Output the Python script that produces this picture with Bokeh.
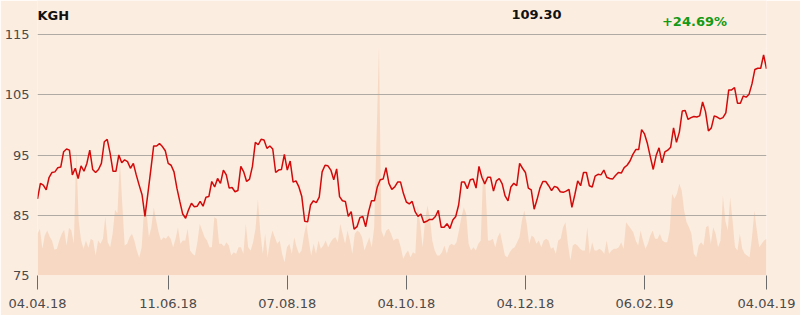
import numpy as np
from bokeh.plotting import figure
from bokeh.models import Range1d, LinearAxis, FixedTicker, Label
from bokeh.embed import file_html
from bokeh.resources import INLINE

ticker_name = "KGH"
last_price = "109.30"
change_text = "+24.69%"

price = [
    87.7, 90.3, 90.0, 89.2, 91.3, 92.1, 92.2, 92.9, 93.0, 95.55,
    96.0, 95.8, 91.7, 92.8, 91.1, 93.2, 92.3, 93.6, 95.8, 92.6,
    92.1, 92.6, 93.6, 97.2, 97.6, 95.3, 92.3, 92.3, 95.0, 93.7,
    94.2, 93.9, 92.8, 93.6, 91.7, 90.0, 88.4, 84.8, 88.6, 92.5,
    96.5, 96.5, 96.9, 96.4, 95.7, 93.6, 93.3, 92.2, 89.5, 87.3,
    85.2, 84.5, 85.9, 87.0, 86.4, 86.5, 87.3, 86.5, 88.0, 88.1,
    90.6, 89.7, 91.1, 90.3, 92.5, 91.7, 89.5, 89.6, 88.9, 89.1,
    93.1, 92.2, 90.6, 91.0, 93.1, 97.1, 96.7, 97.6, 97.5, 96.1,
    96.5, 96.0, 92.1, 92.5, 92.6, 95.1, 92.5, 94.0, 90.5, 90.7,
    89.7, 88.1, 84.0, 83.9, 86.7, 87.4, 87.1, 88.0, 92.2, 93.3,
    93.2, 92.5, 90.9, 92.7, 88.1, 87.4, 87.3, 84.8, 85.6, 82.7,
    83.1, 84.6, 84.8, 83.1, 85.6, 87.4, 87.4, 89.7, 90.9, 91.0,
    92.9, 90.3, 89.3, 89.7, 90.5, 90.5, 88.6, 87.2, 86.9, 87.3,
    85.6, 84.8, 85.2, 83.8, 84.0, 84.3, 84.3, 84.8, 85.8, 83.0,
    83.0, 83.6, 82.8, 84.2, 84.8, 86.7, 90.5, 90.5, 89.4, 90.9,
    91.0, 89.5, 93.1, 91.3, 90.2, 91.3, 91.3, 89.0, 90.7, 91.1,
    90.2, 88.2, 87.4, 89.7, 90.3, 89.9, 93.6, 92.8, 92.1, 89.5,
    89.2, 86.0, 87.6, 89.5, 90.6, 90.6, 89.9, 89.1, 89.8, 89.6,
    88.9, 88.8, 89.0, 89.3, 86.3, 88.4, 90.7, 89.9, 92.1, 92.1,
    89.9, 89.7, 91.5, 91.8, 91.7, 92.5, 91.3, 91.1, 91.0, 91.6,
    92.1, 92.0, 92.9, 93.3, 94.0, 95.1, 95.9, 95.9, 99.2, 98.5,
    96.9, 94.7, 92.6, 94.9, 96.2, 93.7, 95.5, 95.8, 96.3, 99.5,
    97.1, 98.8, 102.3, 102.4, 100.9, 101.2, 101.4, 101.3, 101.5, 103.8,
    102.2, 99.0, 99.5, 101.5, 101.3, 101.0, 101.2, 102.0, 105.8, 105.8,
    106.2, 103.6, 103.6, 104.8, 104.6, 105.1, 106.8, 109.2, 109.4, 109.4,
    111.6, 109.3,
]

volume = [
    41.7, 46.7, 26.7, 40, 45, 39, 35, 25.7, 26.7, 35,
    41.7, 45.7, 30, 47.7, 45, 31.7, 125, 55, 35, 26.7,
    35, 27.7, 36.7, 35, 20, 35, 31.7, 36.7, 59, 33.3,
    28.3, 41.7, 65.7, 62.3, 115, 71.7, 30, 31.7, 38.3, 41.7,
    35, 25, 17.7, 28.3, 66.7, 63.3, 38.3, 48.3, 68.3, 55,
    43.3, 35, 38.3, 36.7, 40, 36.7, 28.3, 36.7, 48.3, 31.7,
    35, 35, 46.7, 25, 21.7, 20, 33.3, 51.7, 45, 38.3,
    35, 28.3, 28.3, 58.3,
    56.7, 31.7, 31.7, 29, 33.3, 30, 20, 23.3, 21.7, 28.3,
    28.3, 21.7, 51.7, 28.3, 25, 33.3, 46.7, 76.7, 43.3, 21.7,
    41.7, 18.3, 35, 45, 38.3, 31.7, 35, 21.7, 13.3, 28.3,
    31.7, 21.7, 38.3, 28.3, 21.7, 25, 40, 51.7, 35, 20,
    31.7, 21.7, 35, 26.7, 30, 35, 28.3, 33.3, 36.7, 38.3,
    33.3, 51.7, 41.7, 31.7, 45, 35, 21.7, 41.7, 45, 43.3,
    38.3, 25, 31.7, 38.3, 28.3, 48.3, 140, 230, 45, 38.3,
    45, 46.7, 41.7, 35, 36.7,
    36.7, 28.3, 16.7, 21.7, 25, 18.3, 23.3, 21.7, 70, 51.7,
    28.3, 55, 70, 58.3, 35, 25, 20, 20, 23.3, 30,
    21.7, 30, 31.7, 30, 33.3, 45, 58.3, 68.3, 61.7, 31.7,
    25, 28.3, 25, 31.7, 35, 105, 88.3, 35, 35, 36.7,
    28.3, 38.3, 43.3, 31.7, 20, 18.3, 23.3, 26.7, 28.3, 33.3,
    38.3, 55, 65, 51.7, 31.7, 40, 38.3, 31.7, 35, 28.3,
    35, 36.7, 35, 26.7, 28.3, 21.7, 35, 36.7, 48.3, 53.3,
    31.7, 15, 30, 31.7, 30, 26.7, 25, 25,
    48.3, 21.7, 33.3, 25, 25, 26.7, 25, 21.7, 35, 21.7,
    25, 26.7, 26.7, 28.3, 33.3, 26.7, 53.3, 50, 46.7, 43.3,
    35, 30, 45, 35, 26.7, 31.7, 40, 45, 36.7, 36.7,
    41.7, 35, 33.3, 33.3, 45, 81.7, 76.7, 81.7, 91.7, 85,
    65, 53.3, 48.3, 41.7, 21.7, 18.3, 30, 33.3, 30, 48.3,
    50, 31.7, 48.3, 41.7, 28.3, 35, 80, 55, 45, 78.3,
    55, 28.3, 25, 41.7, 26.7, 21.7, 20, 18.3, 38.3, 65,
    45, 28.3, 31.7, 35, 36.7,
]

tick_days = [0, 45, 86, 127, 168, 209, 251]
tick_labels = ["04.04.18", "11.06.18", "07.08.18", "04.10.18", "04.12.18", "06.02.19", "04.04.19"]
y_ticks = [75, 85, 95, 105, 115]

BG = "#fcede1"
FONT = "DejaVu Sans"

n = len(price)
days = np.arange(n)
vol_x = np.linspace(0, n - 1, len(volume))

p = figure(width=800, height=315, output_backend="svg", toolbar_location=None,
           x_range=Range1d(0, n - 1), y_range=Range1d(75, 75 + 275 * 10 / 60.25),
           min_border_left=37, min_border_right=34, min_border_top=0, min_border_bottom=40,
           background_fill_color=BG, border_fill_color=BG, outline_line_color=None,
           x_axis_location=None, y_axis_location=None)
p.extra_y_ranges = {"vol": Range1d(0, 275)}

vr = p.varea(x=vol_x, y1=0, y2=volume, y_range_name="vol", fill_color="#f7d9c3", fill_alpha=1.0)
vr.level = "image"
p.line(days, price, line_color="#d20a0a", line_width=1.5)

p.xgrid.visible = False
p.ygrid.ticker = FixedTicker(ticks=y_ticks)
p.ygrid.grid_line_color = "#b0aaa4"
p.ygrid.grid_line_width = 1

yax = LinearAxis(ticker=FixedTicker(ticks=y_ticks))
yax.axis_line_color = None
yax.major_tick_line_color = None
yax.major_tick_in = 0
yax.major_tick_out = 0
yax.minor_tick_line_color = None
yax.minor_tick_out = 0
yax.major_label_standoff = 8
yax.major_label_text_font = FONT
yax.major_label_text_font_size = "13px"
yax.major_label_text_color = "#4a4a4a"
p.add_layout(yax, "left")

xax = LinearAxis(ticker=FixedTicker(ticks=tick_days))
xax.major_label_overrides = {d: l for d, l in zip(tick_days, tick_labels)}
xax.axis_line_color = None
xax.major_tick_in = 0
xax.major_tick_out = 14
xax.major_tick_line_color = "#6b6b6b"
xax.minor_tick_line_color = None
xax.minor_tick_out = 0
xax.major_label_standoff = 9
xax.major_label_text_font = FONT
xax.major_label_text_font_size = "13px"
xax.major_label_text_color = "#4a4a4a"
p.add_layout(xax, "below")

p.add_layout(Label(x=0, y=260, x_units="screen", y_units="screen", text=ticker_name,
                   text_font=FONT, text_font_size="13px", text_font_style="bold",
                   text_color="#111111", text_align="left", text_baseline="alphabetic"))
p.add_layout(Label(x=499, y=261, x_units="screen", y_units="screen", text=last_price,
                   text_font=FONT, text_font_size="13px", text_font_style="bold",
                   text_color="#111111", text_align="center", text_baseline="alphabetic"))
p.add_layout(Label(x=657, y=254, x_units="screen", y_units="screen", text=change_text,
                   text_font=FONT, text_font_size="13px", text_font_style="bold",
                   text_color="#149a14", text_align="center", text_baseline="alphabetic"))

open("out.html", "w").write(file_html(p, INLINE))
